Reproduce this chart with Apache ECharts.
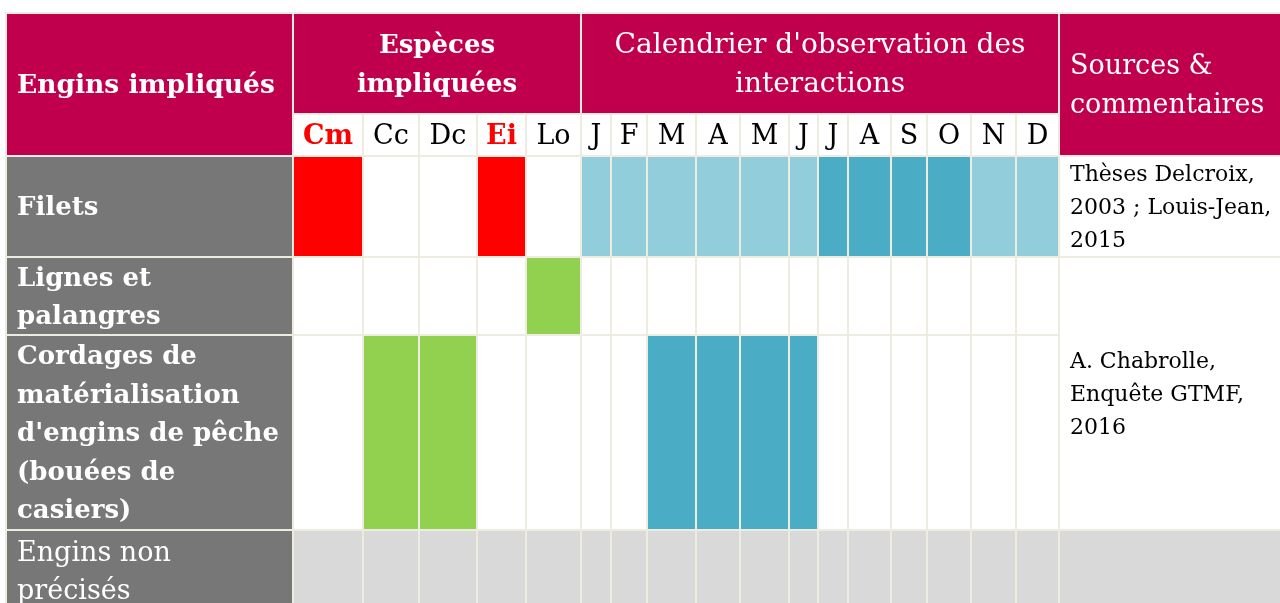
<!DOCTYPE html>
<html>
<head>
<meta charset="utf-8">
<title>Engins impliqués</title>
<script src="https://cdn.jsdelivr.net/npm/echarts@6.0.0/dist/echarts.min.js"></script>
<style>
  html, body { margin: 0; padding: 0; background: #fff; }
  #chart { width: 1280px; height: 603px; }
</style>
</head>
<body>
<div id="chart"></div>
<script>
// lignes du tableau
const engins = ['Filets', 'Lignes et\npalangres', "Cordages de\nmatérialisation\nd'engins de pêche\n(bouées de\ncasiers)", 'Engins non\nprécisés']
const especes = ['Cm', 'Cc', 'Dc', 'Ei', 'Lo']
const especesRouges = ['Cm', 'Ei']
const mois = ['J', 'F', 'M', 'A', 'M', 'J', 'J', 'A', 'S', 'O', 'N', 'D']

// espèces : 0 = rien, 1 = vert, 2 = rouge, -1 = non précisé
const especesFilets = [2, 0, 0, 2, 0]
const especesLignes = [0, 0, 0, 0, 1]
const especesCordages = [0, 1, 1, 0, 0]
const especesNonPrecises = [-1, -1, -1, -1, -1]

// calendrier : 0 = rien, 1 = clair, 2 = foncé, -1 = non précisé
const moisFilets = [1, 1, 1, 1, 1, 1, 2, 2, 2, 2, 1, 1]
const moisLignes = [0, 0, 0, 0, 0, 0, 0, 0, 0, 0, 0, 0]
const moisCordages = [0, 0, 2, 2, 2, 2, 0, 0, 0, 0, 0, 0]
const moisNonPrecises = [-1, -1, -1, -1, -1, -1, -1, -1, -1, -1, -1, -1]

// sources (Lignes + Cordages fusionnées)
const sourceFilets = 'Thèses Delcroix,\n2003 ; Louis-Jean,\n2015'
const sourceLignesCordages = 'A. Chabrolle,\nEnquête GTMF,\n2016'

// mise en page : bords des colonnes et des lignes
const colEdges = [6, 293, 363, 419, 477, 526, 581, 611, 647, 696, 740, 789, 818, 848, 891, 927, 971, 1016, 1059, 1290]
const rowEdges = [13, 114, 156, 257, 335, 530, 612]

const FONT = '"DejaVu Serif", serif'
const MAGENTA = '#C0004C'
const GRIS = '#777777'
const GRIS_CLAIR = '#D9D9D9'
const couleursEspeces = { '-1': GRIS_CLAIR, 0: '#FFFFFF', 1: '#92D050', 2: '#FF0000' }
const couleursMois = { '-1': GRIS_CLAIR, 0: '#FFFFFF', 1: '#92CDDC', 2: '#4BACC6' }

const cells = []
function cell(c0, c1, r0, r1, fill, text, opts) {
  cells.push(Object.assign({ c0, c1, r0, r1, fill, text: text || '', font: 'normal 28px ' + FONT, color: '#000', align: 'center', lh: 39 }, opts || {}))
}

// en-têtes
cell(0, 1, 0, 2, MAGENTA, 'Engins impliqués', { font: 'bold 26.5px ' + FONT, color: '#fff', align: 'left' })
cell(1, 6, 0, 1, MAGENTA, 'Espèces\nimpliquées', { font: 'bold 26px ' + FONT, color: '#fff' })
cell(6, 18, 0, 1, MAGENTA, "Calendrier d'observation des\ninteractions", { color: '#fff' })
cell(18, 19, 0, 2, MAGENTA, 'Sources &\ncommentaires', { font: 'normal 27px ' + FONT, color: '#fff', align: 'left' })
especes.forEach((e, i) => {
  const rouge = especesRouges.indexOf(e) >= 0
  cell(1 + i, 2 + i, 1, 2, '#FFFFFF', e, rouge ? { font: 'bold 27px ' + FONT, color: '#FF0000' } : { font: 'normal 27px ' + FONT })
})
mois.forEach((m, i) => cell(6 + i, 7 + i, 1, 2, '#FFFFFF', m, { font: 'normal 27px ' + FONT }))

// corps du tableau
const lignesEspeces = [especesFilets, especesLignes, especesCordages, especesNonPrecises]
const lignesMois = [moisFilets, moisLignes, moisCordages, moisNonPrecises]
engins.forEach((nom, r) => {
  const derniere = r === engins.length - 1
  cell(0, 1, 2 + r, 3 + r, GRIS, nom, { font: (derniere ? 'normal 27px ' : 'bold 26px ') + FONT, color: '#fff', align: 'left', lh: 38.5 })
  lignesEspeces[r].forEach((v, i) => cell(1 + i, 2 + i, 2 + r, 3 + r, couleursEspeces[v]))
  lignesMois[r].forEach((v, i) => cell(6 + i, 7 + i, 2 + r, 3 + r, couleursMois[v]))
})
cell(18, 19, 2, 3, '#FFFFFF', sourceFilets, { font: 'normal 22px ' + FONT, align: 'left', lh: 33 })
cell(18, 19, 3, 5, '#FFFFFF', sourceLignesCordages, { font: 'normal 22px ' + FONT, align: 'left', lh: 33 })
cell(18, 19, 5, 6, GRIS_CLAIR, '')

const chart = echarts.init(document.getElementById('chart'))
chart.setOption({
  animation: false,
  grid: { left: 0, right: 0, top: 0, bottom: 0 },
  xAxis: { type: 'value', min: 0, max: 1280, show: false },
  yAxis: { type: 'value', min: 0, max: 603, inverse: true, show: false },
  series: [{
    type: 'custom',
    silent: true,
    clip: false,
    data: cells.map(c => [colEdges[c.c0], rowEdges[c.r0]]),
    renderItem(params, api) {
      const c = cells[params.dataIndex]
      const p0 = api.coord([colEdges[c.c0], rowEdges[c.r0]])
      const p1 = api.coord([colEdges[c.c1], rowEdges[c.r1]])
      const children = [{
        type: 'rect',
        shape: { x: p0[0], y: p0[1], width: p1[0] - p0[0], height: p1[1] - p0[1] },
        style: { fill: c.fill, stroke: '#EEECE1', lineWidth: 2 }
      }]
      if (c.text) {
        children.push({
          type: 'text',
          x: c.align === 'left' ? p0[0] + 11 : (p0[0] + p1[0]) / 2,
          y: (p0[1] + p1[1]) / 2 + 2,
          style: { text: c.text, fill: c.color, font: c.font, align: c.align, verticalAlign: 'middle', lineHeight: c.lh }
        })
      }
      return { type: 'group', children }
    }
  }]
})
</script>
</body>
</html>
